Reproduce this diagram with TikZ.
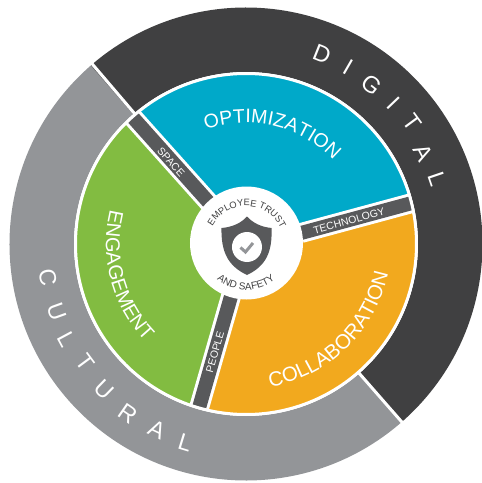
\documentclass[tikz,border=0pt]{standalone}
\usepackage{fontspec}
\setmainfont{Liberation Sans}
\usetikzlibrary{decorations.text}
\definecolor{digitalc}{HTML}{404041}
\definecolor{culturalc}{HTML}{939598}
\definecolor{bandc}{HTML}{58595B}
\definecolor{optc}{HTML}{00A9C9}
\definecolor{collabc}{HTML}{F2A91E}
\definecolor{engagec}{HTML}{82BC41}
\tikzset{
  edge/.style={draw=white,line width=3pt},
  bandline/.style={bandc,line width=14pt},
  bandedge/.style={white,line width=20pt},
  bandtext/.style={white,font=\fontsize{10.5}{10.5}\selectfont,inner sep=0pt},
  ringtext/.style={white,font=\fontsize{23.5}{23.5}\selectfont,inner sep=0pt},
  curved/.style 2 args={decorate,decoration={text along path,text align=center,
    text={|\fontsize{#1}{#1}\selectfont\color{white}|#2}}},
  small/.style 2 args={decorate,decoration={text along path,text align=center,
    text={|\fontsize{#1}{#1}\selectfont\color{digitalc}|#2}}}
}
\begin{document}
\begin{tikzpicture}[x=1pt,y=1pt]
  \useasboundingbox (-246,-239) rectangle (236,244);

  % outer ring
  \fill[culturalc] (131:236.5) arc[start angle=131,end angle=311,radius=236.5]
    -- (311:172) arc[start angle=311,end angle=131,radius=172] -- cycle;
  \fill[digitalc] (131:236.5) arc[start angle=131,end angle=-49,radius=236.5]
    -- (-49:172) arc[start angle=-49,end angle=131,radius=172] -- cycle;
  \draw[edge] (130.5:165) -- (130.5:240);
  \draw[edge] (-48.8:165) -- (-48.8:240);

  % sectors
  \fill[optc] (0,0) -- (131.8:170) arc[start angle=131.8,end angle=14,radius=170] -- cycle;
  \fill[collabc] (0,0) -- (14:170) arc[start angle=14,end angle=-106,radius=170] -- cycle;
  \fill[engagec] (0,0) -- (254:170) arc[start angle=254,end angle=131.8,radius=170] -- cycle;

  % bands
  \coordinate (techin) at (55,11);
  \coordinate (techout) at (166,41);
  \draw[bandedge] (0,0) -- (131.8:171);
  \draw[bandedge] (0,0) -- (254:171);
  \draw[bandedge] (techin) -- (techout);
  \draw[bandline] (0,0) -- (131.8:171);
  \draw[bandline] (0,0) -- (254:171);
  \draw[bandline] (techin) -- (techout);
  \draw[edge] (0,0) circle (170.5);

  \node[bandtext,rotate=-48] (space) at (-75,82) {SPACE};
  \node[bandtext,rotate=74] (people) at (-31,-108) {PEOPLE};
  \node[bandtext,rotate=15.5] (technology) at (103,23) {TECHNOLOGY};

  % sector text
  \path[curved={19.5}{OPTIMIZATION}] (122:121) arc[start angle=122,end angle=31,radius=121];
  \path[curved={20.5}{COLLABORATION}] (-96:145) arc[start angle=-96,end angle=4,radius=145];
  \path[curved={20}{ENGAGEMENT}] (150:140) arc[start angle=150,end angle=240,radius=140];

  % ring text
  \foreach \ch/\ang/\rad [count=\i] in {D/68.2/204.6,I/60/204,G/51.6/203,I/43.8/204,
      T/36.3/206,A/27.3/200,L/18.8/202}
    \node[ringtext,rotate=\ang-90] (dig\i) at (\ang:\rad) {\ch};
  \foreach \ch/\ang/\rad [count=\i] in {C/189.7/201,U/199.8/201,L/208.2/203,T/216.5/200,
      U/225.8/203,R/235.2/207,A/244.4/206,L/253/208}
    \node[ringtext,rotate=\ang-270] (cul\i) at (\ang:\rad) {\ch};

  % centre
  \fill[white] (0.5,1) circle (56.5);
  \path[small={9.3}{EMPLOYEE TRUST}] (178:38) arc[start angle=178,end angle=-2,radius=38];
  \path[small={10}{AND SAFETY}] (200:46) arc[start angle=200,end angle=340,radius=46];

  \fill[bandc] (1,27.5) .. controls (7,21) and (15,17) .. (25.5,16)
    .. controls (26.5,-8) and (20,-22) .. (1,-31)
    .. controls (-18,-22) and (-25,-8) .. (-24.5,16)
    .. controls (-13,17) and (-5,21) .. (1,27.5) -- cycle;
  \fill[white] (1,-3) circle (15);
  \draw[culturalc,line width=3pt] (-5.5,-3.5) -- (-0.5,-8) -- (7,1);
\end{tikzpicture}
\end{document}
